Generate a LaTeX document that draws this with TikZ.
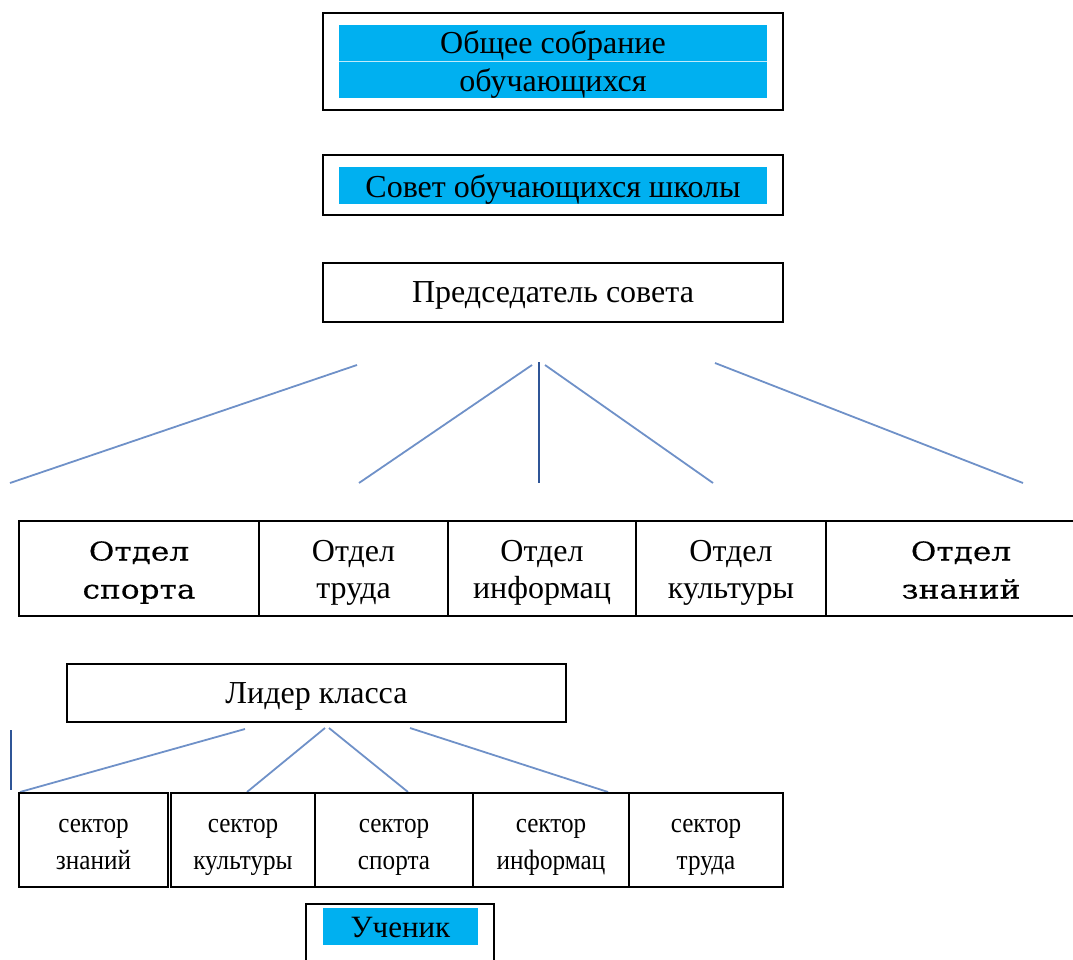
\documentclass[tikz,border=0pt]{standalone}
\usepackage{fontspec}
\setmainfont{Liberation Serif}
\newfontfamily\narrowfont[FakeStretch=0.9]{Liberation Serif}
\newfontfamily\widefont[FakeStretch=1.2,FakeBold=0.3]{DejaVu Serif}
\definecolor{cyanfill}{RGB}{0,176,240}
\definecolor{linkblue}{RGB}{111,145,200}
\definecolor{darkblue}{RGB}{47,85,151}
\newcommand{\sz}[2]{\fontsize{#1}{#2}\selectfont}

\begin{document}
\begin{tikzpicture}[x=1pt,y=-1pt,
   box/.style={draw,line width=1.6pt,inner sep=0pt,text depth=0pt},
   hilite/.style={fill=cyanfill,inner sep=0pt,text depth=0pt},
   cell/.style={box,minimum height=95,align=center,text height=60,font=\sz{32}{37}},
   widecell/.style={box,minimum height=95,align=center,text height=60,font=\widefont\sz{26}{38}},
   sect/.style={box,minimum height=94,align=center,text height=58,font=\narrowfont\sz{28}{37}},
   link/.style={linkblue,line width=1.8pt}]
   \clip (0,0) rectangle (1073,960);
   % top boxes
   \node[box,minimum width=460,minimum height=97] (sobr) at (553,61.5) {};
   \node[hilite,minimum width=428,minimum height=73,align=center,text height=61,font=\sz{32}{38}] (sobrtxt) at (553,61.5) {Общее собрание\\обучающихся};
   \draw[white!75!cyanfill,line width=0.6pt] (sobrtxt.west) -- (sobrtxt.east);
   \node[box,minimum width=460,minimum height=60] (sovet) at (553,185) {};
   \node[hilite,minimum width=428,minimum height=37,text height=23,font=\sz{32}{37}] (sovettxt) at (553,185.5) {Совет обучающихся школы};
   \node[box,minimum width=460,minimum height=59,text height=20,font=\sz{32}{37}] (pred) at (553,292.5) {Председатель совета};
   % departments
   \node[widecell,minimum width=240] (sport) at (139,568.5) {Отдел\\спорта};
   \node[cell,minimum width=189] (trud) at (353.5,568.5) {Отдел\\труда};
   \node[cell,minimum width=188] (inform) at (542,568.5) {Отдел\\информац};
   \node[cell,minimum width=190] (kult) at (731,568.5) {Отдел\\культуры};
   \node[widecell,minimum width=270] (znan) at (961,568.5) {Отдел\\знаний};
   \coordinate (a1) at (357,365);
   \coordinate (a2) at (532,365);
   \coordinate (a3) at (539,362);
   \coordinate (a4) at (545,365);
   \coordinate (a5) at (715,363);
   \coordinate (b1) at (10,483);
   \coordinate (b2) at (359,483);
   \coordinate (b3) at (539,483);
   \coordinate (b4) at (713,483);
   \coordinate (b5) at (1023,483);
   \draw[link] (a1) -- (b1);
   \draw[link] (a2) -- (b2);
   \draw[darkblue,line width=1.8pt] (a3) -- (b3);
   \draw[link] (a4) -- (b4);
   \draw[link] (a5) -- (b5);
   % class leader
   \node[box,minimum width=499,minimum height=58,text height=20,font=\sz{32}{37}] (lider) at (316.5,693) {Лидер класса};
   \coordinate (c1) at (245,729);
   \coordinate (c2) at (325,728);
   \coordinate (c3) at (329,728);
   \coordinate (c4) at (410,728);
   \coordinate (d1) at (20,792);
   \coordinate (d2) at (247,792);
   \coordinate (d3) at (408,792);
   \coordinate (d4) at (608,792);
   \coordinate (v1) at (11,730);
   \coordinate (v2) at (11,790);
   \draw[link] (c1) -- (d1);
   \draw[link] (c2) -- (d2);
   \draw[link] (c3) -- (d3);
   \draw[link] (c4) -- (d4);
   \draw[darkblue,line width=1.4pt] (v1) -- (v2);
   % sectors
   \node[sect,minimum width=149] (sznan) at (93.5,840) {сектор\\знаний};
   \node[sect,minimum width=144] (skult) at (243,840) {сектор\\культуры};
   \node[sect,minimum width=158] (ssport) at (394,840) {сектор\\спорта};
   \node[sect,minimum width=156] (sinform) at (551,840) {сектор\\информац};
   \node[sect,minimum width=154] (strud) at (706,840) {сектор\\труда};
   % pupil
   \node[box,minimum width=188,minimum height=70] (uchen) at (400,939) {};
   \node[hilite,minimum width=155,minimum height=37,text height=21,font=\sz{31}{37}] (uchentxt) at (400.5,926.5) {Ученик};
\end{tikzpicture}
\end{document}
